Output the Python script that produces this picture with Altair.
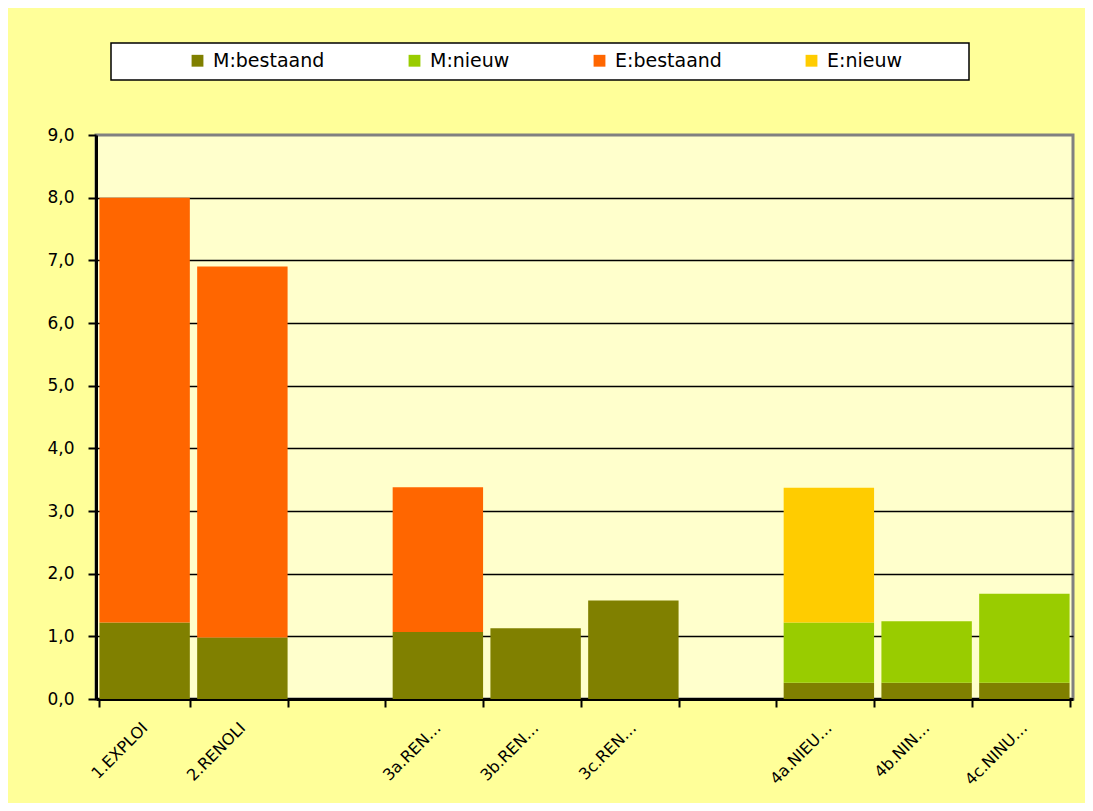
import altair as alt
import pandas as pd

categories = ["1.EXPLOI", "2.RENOLI", " ", "3a.REN…", "3b.REN…", "3c.REN…", "  ", "4a.NIEU…", "4b.NIN…", "4c.NINU…"]
series = ["M:bestaand", "M:nieuw", "E:bestaand", "E:nieuw"]
colors = ["#808000", "#99CC00", "#FF6600", "#FFCC00"]

m_bestaand = [1.22, 0.98, 0.0, 1.07, 1.13, 1.57, 0.0, 0.26, 0.26, 0.26]
m_nieuw    = [0.0, 0.0, 0.0, 0.0, 0.0, 0.0, 0.0, 0.96, 0.98, 1.42]
e_bestaand = [6.78, 5.92, 0.0, 2.31, 0.0, 0.0, 0.0, 0.0, 0.0, 0.0]
e_nieuw    = [0.0, 0.0, 0.0, 0.0, 0.0, 0.0, 0.0, 2.15, 0.0, 0.0]

y_ticks = [0, 1, 2, 3, 4, 5, 6, 7, 8, 9]

rows = []
for vals, s, order in zip([m_bestaand, m_nieuw, e_bestaand, e_nieuw], series, range(4)):
    for c, v in zip(categories, vals):
        rows.append({"cat": c, "serie": s, "value": v, "ord": order})
df = pd.DataFrame(rows)

FONT = "DejaVu Sans"

bars = alt.Chart(df).transform_filter("datum.value > 0").mark_bar().encode(
    x=alt.X("cat:N", sort=categories,
            scale=alt.Scale(domain=categories, paddingInner=0.075, paddingOuter=0.035),
            axis=alt.Axis(title=None, labelAngle=-45, labelAlign="right", labelBaseline="middle",
                          labelFont=FONT, labelFontSize=16, labelColor="black",
                          labelPadding=18, tickBand="extent", tickColor="black", tickSize=8,
                          tickWidth=2, domainColor="black", domainWidth=3, grid=False)),
    y=alt.Y("value:Q", stack="zero",
            scale=alt.Scale(domain=[0, 9], nice=False),
            axis=alt.Axis(title=None, values=y_ticks, format=".1f",
                          labelExpr="replace(datum.label, '.', ',')",
                          labelFont=FONT, labelFontSize=17, labelColor="black",
                          labelPadding=14, tickColor="black", tickSize=8, tickWidth=2,
                          domainColor="black", domainWidth=3,
                          grid=True, gridColor="black", gridWidth=1.5,
                          gridOpacity={"condition": {"test": "datum.value >= 9 || datum.value <= 0", "value": 0}, "value": 1})),
    color=alt.Color("serie:N", scale=alt.Scale(domain=series, range=colors),
                    legend=alt.Legend(title=None, orient="none", direction="horizontal",
                                      columns=4, columnPadding=80, legendX=92, legendY=-84,
                                      symbolType="square", symbolSize=140, symbolStrokeWidth=0,
                                      labelFont=FONT, labelFontSize=19, labelColor="black",
                                      labelOffset=6, padding=0)),
    order=alt.Order("ord:Q", sort="ascending"),
)

legend_box = alt.Chart(pd.DataFrame({"a": [0]})).mark_rect(
    fill="white", stroke="black", strokeWidth=1.5
).encode(
    x=alt.value(15), x2=alt.value(873), y=alt.value(-92), y2=alt.value(-55)
)

chart = alt.layer(legend_box, bars).properties(
    width=977, height=564,
    background="#FFFF99",
    padding={"left": 88, "top": 127, "right": 12, "bottom": 104},
    autosize=alt.AutoSizeParams(type="none"),
).configure_view(
    fill="#FFFFCC", stroke="#808080", strokeWidth=3
)

chart.save("out.html", embed_options={"renderer": "svg", "actions": False})
